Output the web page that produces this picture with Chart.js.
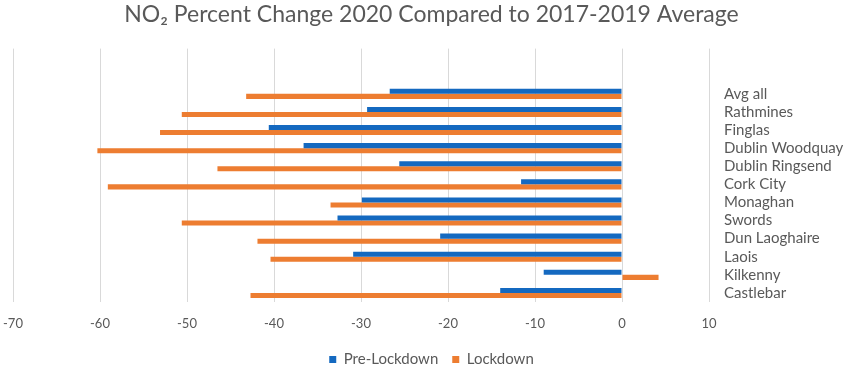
<!DOCTYPE html>
<html>
<head>
<meta charset="utf-8">
<script src="https://cdn.jsdelivr.net/npm/chart.js@4"></script>
<style>
html,body{margin:0;padding:0;background:#fff;}
#wrap{width:850px;height:369px;}
</style>
</head>
<body>
<div id="wrap"><canvas id="c" width="850" height="369"></canvas></div>
<script>
const titleText = "NO\u2082 Percent Change 2020 Compared to 2017-2019 Average";
const categories = ["", "", "Avg all", "Rathmines", "Finglas", "Dublin Woodquay", "Dublin Ringsend", "Cork City", "Monaghan", "Swords", "Dun Laoghaire", "Laois", "Kilkenny", "Castlebar"];
const preLockdown = [null, null, -26.7, -29.3, -40.6, -36.6, -25.6, -11.6, -29.9, -32.7, -20.9, -30.9, -9.0, -14.0];
const lockdown = [null, null, -43.2, -50.6, -53.1, -60.3, -46.5, -59.1, -33.5, -50.6, -41.9, -40.4, 4.2, -42.7];
const xTicks = [-70, -60, -50, -40, -30, -20, -10, 0, 10];

const FONT = "Lato";
const GREY = "#595959";

new Chart(document.getElementById('c'), {
  type: 'bar',
  data: {
    labels: categories,
    datasets: [
      {label: 'Pre-Lockdown', data: preLockdown, backgroundColor: '#1469C0', categoryPercentage: 0.56, barPercentage: 1.0},
      {label: 'Lockdown', data: lockdown, backgroundColor: '#ED7D31', categoryPercentage: 0.56, barPercentage: 1.0}
    ]
  },
  options: {
    indexAxis: 'y',
    responsive: false,
    maintainAspectRatio: false,
    animation: false,
    layout: {padding: {left: 13, right: 0, top: 0, bottom: -8}},
    plugins: {
      title: {display: true, text: titleText, color: GREY, font: {family: FONT, size: 23, weight: 'normal'}, padding: {top: 1, bottom: 20}},
      legend: {
        position: 'bottom',
        labels: {color: GREY, font: {family: FONT, size: 15, lineHeight: 1}, boxWidth: 7, boxHeight: 7, padding: 14}
      },
      tooltip: {enabled: false}
    },
    scales: {
      x: {
        type: 'linear', min: -70, max: 10,
        afterBuildTicks(scale){ scale.ticks = xTicks.map(v => ({value: v})); },
        afterFit(scale){ scale.paddingLeft = 0; scale.paddingRight = 0; scale.height = 36; },
        grid: {color: '#D9D9D9', lineWidth: 1, drawTicks: false},
        border: {display: false},
        ticks: {color: GREY, font: {family: FONT, size: 13}, padding: 14}
      },
      y: {
        type: 'category', position: 'right',
        afterFit(scale){ scale.width = 141; },
        grid: {display: false, drawTicks: false},
        border: {display: false},
        ticks: {color: GREY, font: {family: FONT, size: 15}, padding: 15, autoSkip: false}
      }
    }
  }
});
</script>
</body>
</html>
